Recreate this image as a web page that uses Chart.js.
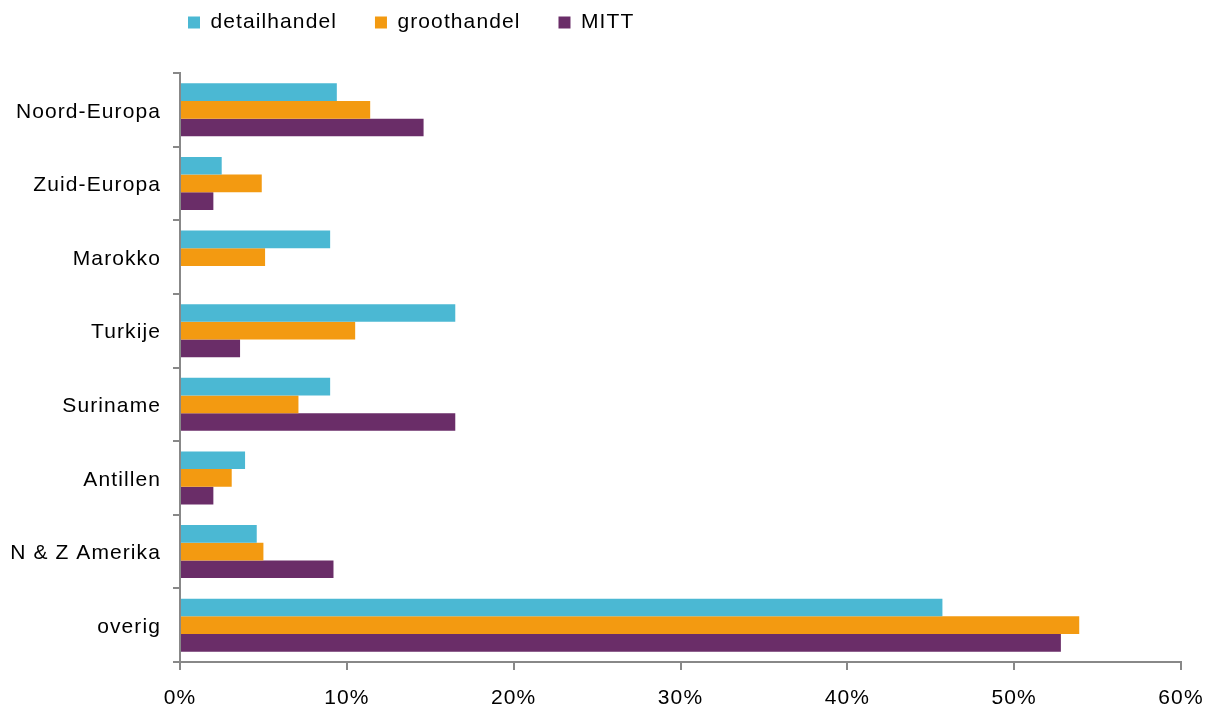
<!DOCTYPE html>
<html>
<head>
<meta charset="utf-8">
<script src="https://cdn.jsdelivr.net/npm/chart.js@4/dist/chart.umd.min.js"></script>
<style>
  html, body { margin: 0; padding: 0; background: #fff; }
  #wrap { width: 1207px; height: 710px; }
</style>
</head>
<body>
<div id="wrap"><canvas id="herkomst_chart" width="1207" height="710"></canvas></div>
<script>
// categories (top to bottom) and shares per sector, in percent
var regions = ['Noord-Europa', 'Zuid-Europa', 'Marokko', 'Turkije', 'Suriname', 'Antillen', 'N & Z Amerika', 'overig']
var detailhandel = [9.4, 2.5, 9.0, 16.5, 9.0, 3.9, 4.6, 45.7]
var groothandel = [11.4, 4.9, 5.1, 10.5, 7.1, 3.1, 5.0, 53.9]
var mitt = [14.6, 2.0, 0, 3.6, 16.5, 2.0, 9.2, 52.8]
var xTicks = [0, 10, 20, 30, 40, 50, 60]

var bar_color = ['#4BB8D3', '#F39A11', '#6A2D68']
var axis_color = '#888888'
var font_family = '"Liberation Sans", Arial, sans-serif'

// Excel-style wide text: a bit of letter spacing on the canvas
var spacing = {
  id: 'spacing',
  beforeUpdate: function(chart) { chart.ctx.letterSpacing = '1.1px' },
  beforeDraw: function(chart) { chart.ctx.letterSpacing = '1.1px' }
}

// put the legend where the original has it (left-ish, near the top)
var legendPlace = {
  id: 'legendPlace',
  afterLayout: function(chart) {
    var lg = chart.legend
    lg.left = 188 - lg.options.labels.padding
    lg.top = 12 - lg.options.labels.padding
  }
}

var data = {
  labels: regions,
  datasets: [
    { label: 'detailhandel', backgroundColor: bar_color[0], data: detailhandel },
    { label: 'groothandel', backgroundColor: bar_color[1], data: groothandel },
    { label: 'MITT', backgroundColor: bar_color[2], data: mitt }
  ]
}

var chart_element = document.getElementById('herkomst_chart').getContext('2d')
var myChart = new Chart(chart_element, {
  type: 'bar',
  data: data,
  plugins: [spacing, legendPlace],
  options: {
    indexAxis: 'y',
    responsive: false,
    animation: false,
    devicePixelRatio: 1,
    categoryPercentage: 0.72,
    barPercentage: 1.0,
    layout: { padding: { top: 4, right: 0, bottom: 0, left: 0 } },
    font: { family: font_family, size: 21 },
    color: '#000',
    plugins: {
      legend: {
        position: 'top',
        align: 'start',
        labels: {
          boxWidth: 12,
          boxHeight: 12,
          padding: 38,
          color: '#000',
          font: { family: font_family, size: 21 }
        }
      },
      tooltip: { enabled: false }
    },
    scales: {
      x: {
        min: 0,
        max: 60,
        afterBuildTicks: function(scale) {
          scale.ticks = xTicks.map(function(v) { return { value: v } })
        },
        afterFit: function(scale) {
          scale.height = 48
          scale.paddingLeft = 0
          scale.paddingRight = 26
        },
        border: { color: axis_color, width: 2 },
        grid: { drawOnChartArea: false, drawTicks: true, tickLength: 8, color: axis_color, lineWidth: 2 },
        ticks: {
          padding: 16,
          color: '#000',
          font: { family: font_family, size: 21 },
          callback: function(value) { return value + '%' }
        }
      },
      y: {
        afterFit: function(scale) { scale.width = 180 },
        border: { color: axis_color, width: 2 },
        grid: { offset: true, drawOnChartArea: false, drawTicks: true, tickLength: 7, color: axis_color, lineWidth: 2 },
        ticks: {
          padding: 12,
          labelOffset: 2,
          color: '#000',
          font: { family: font_family, size: 21 }
        }
      }
    }
  }
})
</script>
</body>
</html>
